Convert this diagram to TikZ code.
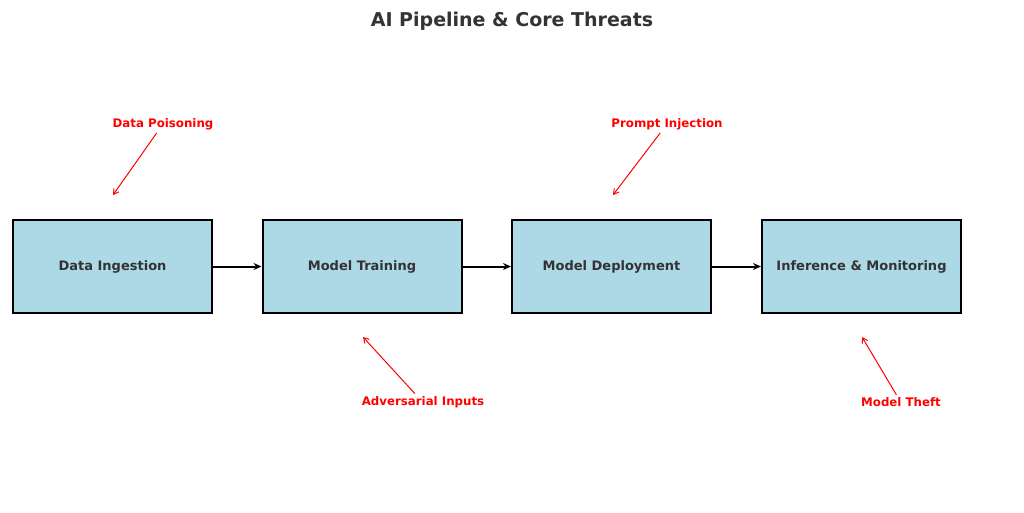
\documentclass[tikz,border=0pt]{standalone}
\usepackage{fontspec}
\setmainfont{DejaVu Sans}
\usepackage{tikz}
\usetikzlibrary{positioning}
\usetikzlibrary{arrows.meta}
\definecolor{boxfill}{RGB}{173,216,230}
\definecolor{inkgray}{RGB}{51,51,51}
\newcommand{\threatFont}{\fontsize{11.8}{14}\selectfont\bfseries}

\begin{document}
\begin{tikzpicture}[x=1pt,y=-1pt,
                        stage/.style = {draw = black,line width = 2pt,fill = boxfill,minimum width = 199pt,minimum height = 93pt,
                                        text = inkgray,font = \fontsize{13}{16}\selectfont\bfseries},
                        threat/.style = {text = red,font = \threatFont,inner sep = 3pt},
                        flow/.style = {-{Stealth[length = 8pt,width = 7pt]},line width = 2pt},
                        hit/.style = {-{Straight Barb[length = 5pt,width = 6pt]},red,line width = 1pt}]
                        \useasboundingbox (0,0) rectangle (1024,512);
                        \node[text = inkgray,font = \fontsize{19}{22}\selectfont\bfseries] (title) at (512,21.5) {AI Pipeline \& Core Threats};
                        \node[stage] (ingest) at (112.5,266.5) {Data Ingestion};
                        \node[stage] (train) at (362,266.5) {Model Training};
                        \node[stage] (deploy) at (611.5,266.5) {Model Deployment};
                        \node[stage] (infer) at (861.5,266.5) {Inference \& Monitoring};
                        \foreach \fromNode/\toNode in {ingest/train,train/deploy,deploy/infer}{
                            \draw[flow] (\fromNode.east) -- (\toNode.west);
                          }
                        \node[threat] (poison) at (163,124) {Data Poisoning};
                        \node[threat] (inject) at (667,124) {Prompt Injection};
                        \node[threat] (advers) at (423,402.5) {Adversarial Inputs};
                        \node[threat] (theft) at (901,402.5) {Model Theft};
                        \coordinate (poisonTip) at (113,195);
                        \coordinate (injectTip) at (613,195);
                        \coordinate (adversTip) at (363,337);
                        \coordinate (theftTip) at (862,337);
                        \draw[hit] (poison) -- (poisonTip);
                        \draw[hit] (inject) -- (injectTip);
                        \draw[hit] (advers) -- (adversTip);
                        \draw[hit] (theft) -- (theftTip);
                      \end{tikzpicture}
\end{document}
